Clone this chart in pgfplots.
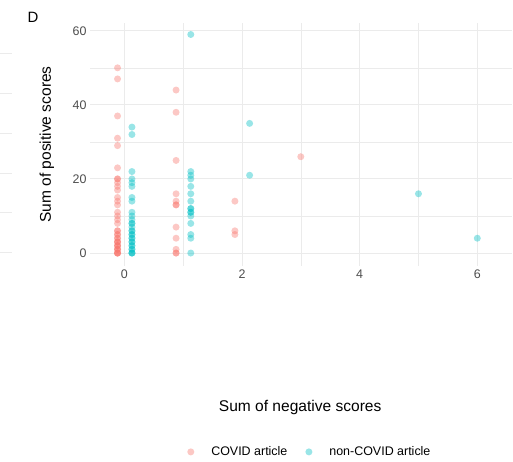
\documentclass[border=0pt]{standalone}
\usepackage{pgfplots}
\pgfplotsset{compat=1.18}
\usepackage{fontspec}
\setmainfont{Liberation Sans}
\definecolor{covid}{HTML}{F8766D}
\definecolor{noncovid}{HTML}{00BFC4}
\definecolor{gridc}{HTML}{EBEBEB}
\definecolor{tickc}{HTML}{4D4D4D}
\begin{document}
\begin{tikzpicture}
\path[use as bounding box] (0bp,0bp) rectangle (513bp,462bp);
% fragments of the neighbouring panel's grid
\foreach \yy in {53,93,133,173,212,252}{
  \draw[gridc, line width=0.8bp] (0bp,{(462-\yy)*1bp}) -- (12bp,{(462-\yy)*1bp});
}
\node[font=\fontsize{15}{17}\selectfont, anchor=center] at (33bp,445bp) {D};
\begin{axis}[
  at={(90bp,196bp)}, anchor=south west,
  width=422bp, height=243bp, scale only axis,
  xmin=-0.583, xmax=6.59, ymin=-3.5, ymax=62.1,
  axis line style={draw=none},
  major tick style={draw=none}, minor tick style={draw=none},
  xtick={0,2,4,6}, ytick={0,20,40,60},
  minor xtick={1,3,5}, minor ytick={10,30,50},
  grid=both,
  major grid style={color=gridc, line width=0.9bp},
  minor grid style={color=gridc, line width=0.45bp},
  /pgf/number format/assume math mode=true,
  ticklabel style={font=\fontsize{12.5}{14}\selectfont, text=tickc},
  xlabel={Sum of negative scores},
  ylabel={Sum of positive scores},
  label style={font=\fontsize{15.6}{18}\selectfont},
  xlabel style={at={(axis description cs:0.498,-0.584)}, anchor=center},
  ylabel style={at={(axis description cs:-0.102,0.5)}, anchor=center, rotate=0},
  legend style={at={(axis description cs:0.521,-0.765)}, anchor=center, draw=none,
    font=\fontsize{12.5}{14}\selectfont, legend columns=2,
    /tikz/every odd column/.append style={column sep=15bp},
    /tikz/every even column/.append style={column sep=16bp}},
  legend cell align=left,
  legend image code/.code={\draw[#1] plot coordinates {(0bp,0bp)};},
]
\addplot[only marks, mark=*, mark size=3.5bp, color=covid, fill opacity=0.4, draw opacity=0]
coordinates {
(-0.115,50) (-0.115,47) (-0.115,37) (-0.115,31) (-0.115,29) (-0.115,23)
(-0.115,20) (-0.115,20) (-0.115,19) (-0.115,18) (-0.115,17) (-0.115,15)
(-0.115,14) (-0.115,13) (-0.115,11) (-0.115,10) (-0.115,9) (-0.115,8)
(-0.115,6) (-0.115,6) (-0.115,5) (-0.115,5) (-0.115,4) (-0.115,4)
(-0.115,3) (-0.115,3) (-0.115,3) (-0.115,2) (-0.115,2) (-0.115,2)
(-0.115,1) (-0.115,1) (-0.115,1) (-0.115,0) (-0.115,0) (-0.115,0) (-0.115,0)
(0.88,44) (0.88,38) (0.88,25) (0.88,16) (0.88,14) (0.88,13) (0.88,13)
(0.88,7) (0.88,4) (0.88,1) (0.88,0) (0.88,0)
(1.88,14) (1.88,6) (1.88,5)
(3.0,26)
};
\addlegendentry{COVID article}
\addplot[only marks, mark=*, mark size=3.5bp, color=noncovid, fill opacity=0.4, draw opacity=0]
coordinates {
(0.13,34) (0.13,32) (0.13,22) (0.13,20) (0.13,19) (0.13,18) (0.13,15)
(0.13,14) (0.13,11) (0.13,10) (0.13,9) (0.13,8) (0.13,8) (0.13,7)
(0.13,6) (0.13,6) (0.13,5) (0.13,5) (0.13,4) (0.13,4) (0.13,3) (0.13,3)
(0.13,2) (0.13,2) (0.13,1) (0.13,1) (0.13,0) (0.13,0) (0.13,0)
(1.13,59) (1.13,22) (1.13,21) (1.13,20) (1.13,18) (1.13,16) (1.13,14)
(1.13,12) (1.13,12) (1.13,11) (1.13,11) (1.13,10) (1.13,8) (1.13,5)
(1.13,4) (1.13,0)
(2.13,35) (2.13,21)
(5.0,16)
(6.0,4)
};
\addlegendentry{non-COVID article}
\end{axis}
\end{tikzpicture}
\end{document}
